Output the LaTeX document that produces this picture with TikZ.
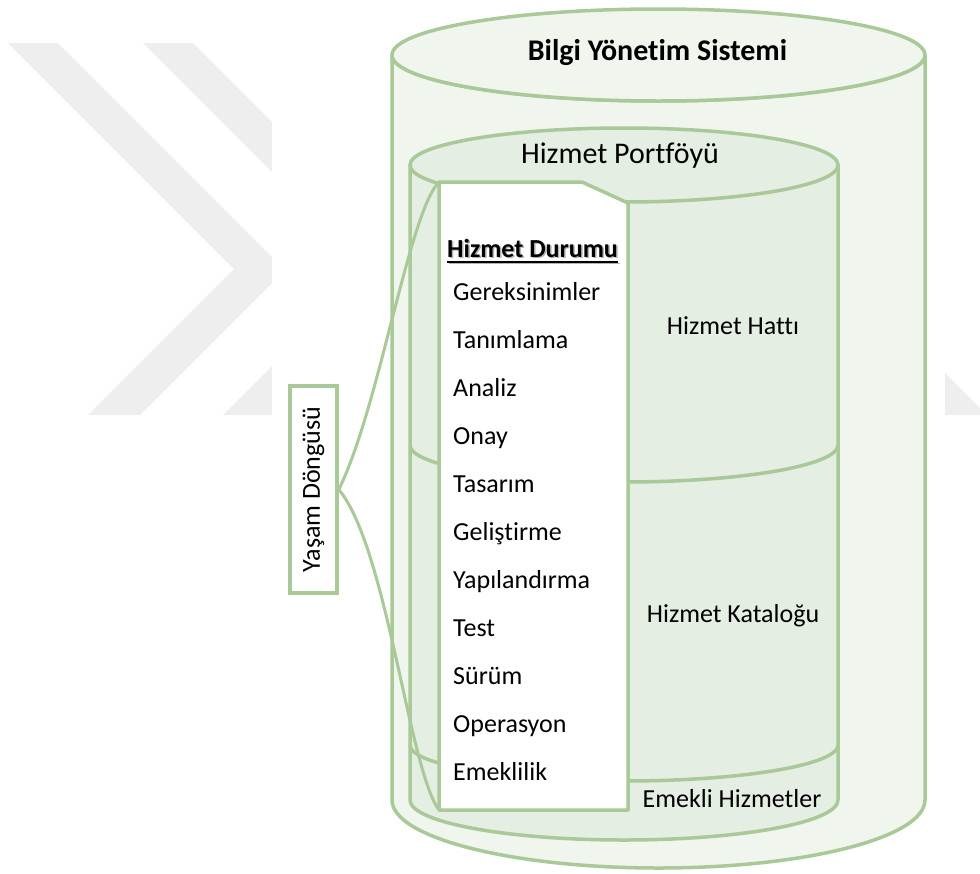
\documentclass[tikz,border=0pt]{standalone}
\usepackage{fontspec}
\setmainfont{Carlito}[Ligatures=NoCommon]
\definecolor{rim}{RGB}{169,201,153}
\definecolor{outerfill}{RGB}{240,245,238}
\definecolor{innerfill}{RGB}{229,238,226}
\definecolor{markgray}{RGB}{238,238,238}
\tikzset{
  rimline/.style={draw=rim, line width=3.5pt, line join=round},
  lbl/.style={inner sep=0pt, font=\fontsize{26}{30}\selectfont},
  biglbl/.style={inner sep=0pt, font=\fontsize{30}{34}\selectfont},
  stage/.style={lbl, anchor=base west},
  brace/.style={draw=rim, line width=3pt}
}
\begin{document}
\begin{tikzpicture}[x=1pt, y=-1pt]
\useasboundingbox (0,0) rectangle (980,873);

% faint chevron watermark behind the figure
\fill[markgray] (8,43) -- (58,43) -- (285,270) -- (140,415) -- (88,415) -- (234,269) -- cycle;
\fill[markgray] (143,43) -- (193,43) -- (420,270) -- (275,415) -- (223,415) -- (369,269) -- cycle;
\fill[white] (272,0) rectangle (945,873);
\fill[markgray] (945,373) -- (980,408) -- (980,415) -- (945,415) -- cycle;

% outer cylinder: Bilgi Yonetim Sistemi
\path[rimline, fill=outerfill] (392,55) -- (392,800)
  arc[start angle=180, end angle=0, x radius=266.5, y radius=68]
  -- (925,55) arc[start angle=0, end angle=180, x radius=266.5, y radius=46] -- cycle;
\path[rimline, fill=outerfill] (658.5,55) ellipse[x radius=266.5, y radius=46];

% inner cylinder: Hizmet Portfoyu
\path[rimline, fill=innerfill] (410,165) -- (410,800)
  arc[start angle=180, end angle=0, x radius=214, y radius=40]
  -- (838,165) -- cycle;
% section boundaries
\path[rimline] (410,445) arc[start angle=180, end angle=0, x radius=214, y radius=37];
\path[rimline] (410,745) arc[start angle=180, end angle=0, x radius=214, y radius=36];
\path[rimline, fill=innerfill] (624,165) ellipse[x radius=214, y radius=37];

% white tab listing the service states
\path[rimline, fill=white] (439,182) -- (582,182) -- (628,203) -- (628,810) -- (439,810) -- cycle;
\coordinate (tabtop) at (439,182);
\coordinate (tabbot) at (439,810);

% titles
\node[biglbl, anchor=base, font=\fontsize{30}{34}\selectfont\bfseries] (bys) at (657.5,60) {Bilgi Yönetim Sistemi};
\node[biglbl, anchor=base] (hp) at (620,163) {Hizmet Portföyü};
\node[lbl, anchor=base] (hh) at (733,334) {Hizmet Hattı};
\node[lbl, anchor=base] (hk) at (733,622) {Hizmet Kataloğu};
\node[lbl, anchor=base] (eh) at (732,807) {Emekli Hizmetler};

% heading of the state list, with a soft shadow
\node[lbl, anchor=base west, text=black!30, font=\fontsize{26}{30}\selectfont\bfseries] (hdsh) at (448.5,258.5) {Hizmet Durumu};
\draw[black!30, line width=1.6pt] ([yshift=-5pt]hdsh.base west) -- ([yshift=-5pt]hdsh.base east);
\node[lbl, anchor=base west, font=\fontsize{26}{30}\selectfont\bfseries] (hd) at (447,257) {Hizmet Durumu};
\draw[black, line width=1.6pt] ([yshift=-5pt]hd.base west) -- ([yshift=-5pt]hd.base east);

% states
\node[stage] (s1)  at (453,300) {Gereksinimler};
\node[stage] (s2)  at (453,348) {Tanımlama};
\node[stage] (s3)  at (453,396) {Analiz};
\node[stage] (s4)  at (453,444) {Onay};
\node[stage] (s5)  at (453,492) {Tasarım};
\node[stage] (s6)  at (453,540) {Geliştirme};
\node[stage] (s7)  at (453,588) {Yapılandırma};
\node[stage] (s8)  at (453,636) {Test};
\node[stage] (s9)  at (453,684) {Sürüm};
\node[stage] (s10) at (453,732) {Operasyon};
\node[stage] (s11) at (453,780) {Emeklilik};

% life cycle label and its brace
\node[lbl, draw=rim, line width=3.5pt, fill=white, rotate=90,
      minimum width=207pt, minimum height=47pt] (life) at (313.5,489.5) {Yaşam Döngüsü};
\draw[brace] (life.south) .. controls +(40,-80) and +(-30,30) .. (tabtop);
\draw[brace] (life.south) .. controls +(48,57) and +(-30,-40) .. (tabbot);
\end{tikzpicture}
\end{document}
